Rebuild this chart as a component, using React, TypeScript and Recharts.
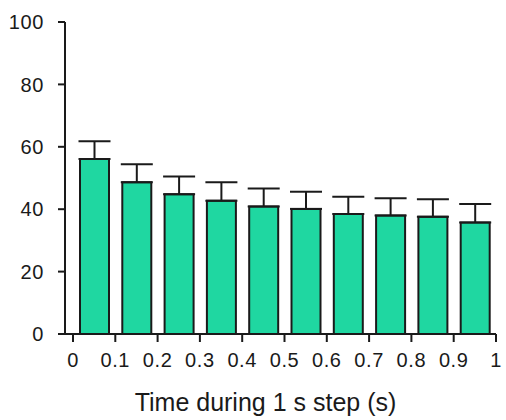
import { Bar, BarChart, ErrorBar, XAxis, YAxis } from "recharts";

// bin centres along the 1 s step
const binMids = [0.05, 0.15, 0.25, 0.35, 0.45, 0.55, 0.65, 0.75, 0.85, 0.95];
const means = [56.1, 48.6, 44.8, 42.7, 40.9, 40.1, 38.5, 38.0, 37.6, 35.7];
const sems = [5.7, 5.8, 5.7, 5.9, 5.7, 5.5, 5.5, 5.5, 5.6, 6.0];
const timeTicks = [0, 0.1, 0.2, 0.3, 0.4, 0.5, 0.6, 0.7, 0.8, 0.9, 1];
const yTicks = [0, 20, 40, 60, 80, 100];

const FONT = '"Liberation Sans", Arial, sans-serif';
const INK = "#1a1a1a";

const data = binMids.map((t, i) => ({ t, mean: means[i], err: [0, sems[i]] }));

export default function App() {
  return (
    <div style={{ position: "absolute", left: 0, top: 0, background: "#fff", fontFamily: FONT }}>
      <BarChart width={506} height={420} data={data} margin={{ top: 22, right: 10, left: 0, bottom: 0 }}>
        <XAxis
          dataKey="t"
          type="number"
          domain={[0, 1]}
          allowDataOverflow
          ticks={timeTicks}
          interval={0}
          height={86}
          padding={{ left: 8, right: 0 }}
          axisLine={{ stroke: INK, strokeWidth: 2 }}
          tickLine={{ stroke: INK, strokeWidth: 2 }}
          tickSize={8}
          tickMargin={11}
          fontSize={20}
          tick={{ fill: INK, fontSize: 20, fontFamily: FONT, letterSpacing: 0.6 }}
          label={{
            value: "Time during 1 s step (s)",
            position: "insideBottom",
            offset: 9,
            dx: -15,
            fill: INK,
            fontSize: 25,
            fontFamily: FONT,
          }}
        />
        <YAxis
          type="number"
          domain={[0, 100]}
          ticks={yTicks}
          width={65}
          axisLine={{ stroke: INK, strokeWidth: 2 }}
          tickLine={{ stroke: INK, strokeWidth: 2 }}
          tickSize={7}
          tickMargin={14}
          fontSize={20}
          tick={{ fill: INK, fontSize: 20, fontFamily: FONT, letterSpacing: 0.6 }}
        />
        <Bar dataKey="mean" barSize={29} fill="#1fd7a1" stroke={INK} strokeWidth={2} isAnimationActive={false}>
          <ErrorBar dataKey="err" direction="y" width={16} stroke={INK} strokeWidth={2} />
        </Bar>
      </BarChart>
    </div>
  );
}
